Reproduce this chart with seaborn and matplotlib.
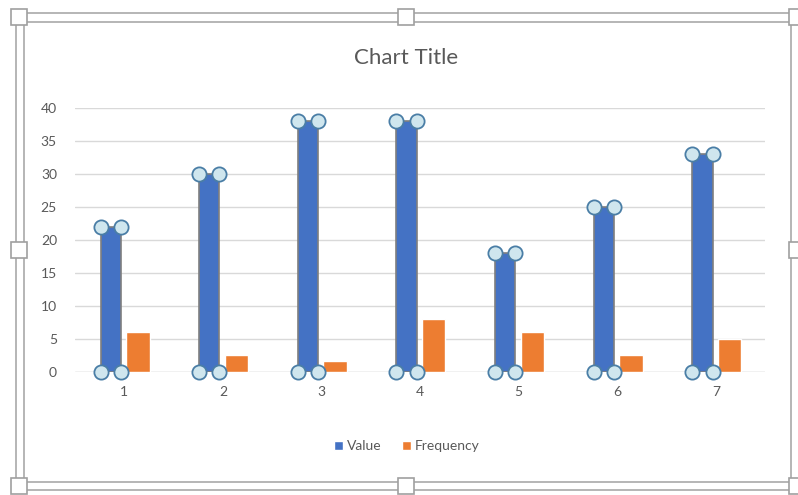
import numpy as np
import pandas as pd
import matplotlib
matplotlib.use('Agg')
import matplotlib.pyplot as plt
from matplotlib.patches import Rectangle, Patch
import seaborn as sns

# Data
categories = ['1', '2', '3', '4', '5', '6', '7']
value = [22, 30, 38, 38, 18, 25, 33]
frequency = [6, 2.6, 1.7, 8, 6, 2.6, 5]

df = pd.DataFrame({
    'cat': categories * 2,
    'val': value + frequency,
    'series': ['Value'] * len(categories) + ['Frequency'] * len(categories),
})

sns.set_style('white')
plt.rcParams['font.family'] = ['Lato', 'DejaVu Sans']

fig = plt.figure(figsize=(7.98, 4.95), dpi=100)
ax = fig.add_axes([0.094, 0.2485, 0.865, 0.533])

blue = '#4472C4'
orange = '#ED7D31'
txt = '#595959'

sns.barplot(data=df, x='cat', y='val', hue='series', palette=[blue, orange],
            width=0.55, gap=0.14, ax=ax, legend=False, saturation=1)

# selection outline on the Value bars, plus round handles at the corners
left_x, right_x = [], []
for p in ax.patches[:len(categories)]:
    c = p.get_x() + p.get_width() / 2
    p.set_width(0.205)
    p.set_x(c - 0.1025)
    p.set_edgecolor('#7f7f7f')
    p.set_linewidth(1.2)
    left_x.append(p.get_x())
    right_x.append(p.get_x() + p.get_width())

for xx in (left_x, right_x):
    ax.scatter(xx, value, s=105, facecolor='#cfe6ee', edgecolor='#4a7ea6',
               linewidth=1.3, zorder=5, clip_on=False)
    ax.scatter(xx, np.zeros(len(categories)), s=105, facecolor='#cfe6ee',
               edgecolor='#4a7ea6', linewidth=1.3, zorder=5, clip_on=False)

ax.set_xlim(-0.5, 6.5)
ax.set_ylim(0, 40)
ax.set_yticks(range(0, 41, 5))
ax.yaxis.grid(True, color='#d9d9d9', linewidth=1)
ax.set_axisbelow(True)
for s in ax.spines.values():
    s.set_visible(False)
ax.axhline(0, color='#d9d9d9', linewidth=1, zorder=0)
ax.tick_params(axis='both', length=0, labelsize=10, labelcolor=txt)
ax.tick_params(axis='y', pad=13)
ax.tick_params(axis='x', pad=10)
ax.set_xlabel('')
ax.set_ylabel('')

fig.text(0.509, 0.882, 'Chart Title', ha='center', va='center', fontsize=16, color=txt)

# legend
handles = [Patch(facecolor=blue, label='Value'), Patch(facecolor=orange, label='Frequency')]
fig.legend(handles=handles, loc='center', bbox_to_anchor=(0.51, 0.099), ncol=2,
           frameon=False, handlelength=0.6, handleheight=0.6, handletextpad=0.3,
           columnspacing=1.5, fontsize=10, labelcolor=txt)

# chart selection frame
W, H = 798, 495
def frect(x0, y0, x1, y1, **kw):
    fig.patches.append(Rectangle((x0 / W, 1 - y1 / H), (x1 - x0) / W, (y1 - y0) / H,
                                 transform=fig.transFigure, fill=False, **kw))
frect(16, 13, 799, 490, edgecolor='#b0b0b0', linewidth=1.3)
frect(24, 22, 791, 482, edgecolor='#b0b0b0', linewidth=1.3)
for hx, hy in [(19, 17), (406, 17), (797, 17), (19, 250), (797, 250),
               (19, 486), (406, 486), (797, 486)]:
    fig.patches.append(Rectangle(((hx - 8) / W, 1 - (hy + 8) / H), 16 / W, 16 / H,
                                 transform=fig.transFigure, facecolor='white',
                                 edgecolor='#a0a0a0', linewidth=1.2, zorder=10))

fig.savefig('out.png', dpi=100)
